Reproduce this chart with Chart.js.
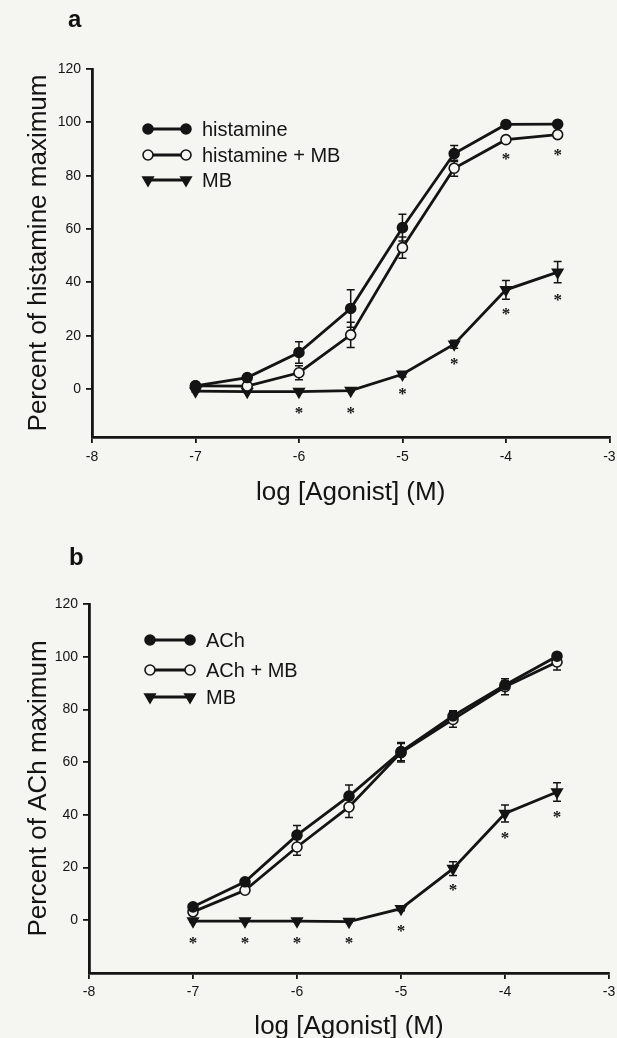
<!DOCTYPE html>
<html>
<head>
<meta charset="utf-8">
<script src="https://cdn.jsdelivr.net/npm/chart.js@4.4.1/dist/chart.umd.min.js"></script>
<style>
  html, body { margin: 0; padding: 0; background: #f5f6f1; }
  body { width: 617px; height: 1038px; position: relative; overflow: hidden; font-family: "Liberation Sans", Arial, sans-serif; }
  .panel { position: absolute; left: 0; width: 617px; }
  .tag { position: absolute; font-weight: bold; font-size: 24px; line-height: 1; color: #111; }
</style>
</head>
<body>
<div class="panel" style="top:0;height:520px"><canvas id="fig-a" width="617" height="520"></canvas></div>
<div class="panel" style="top:540px;height:498px"><canvas id="fig-b" width="617" height="498"></canvas></div>
<div class="tag" style="left:68px;top:7px">a</div>
<div class="tag" style="left:69px;top:545px">b</div>
<script>
// 농도-반응 곡선 두 장 (a: histamine, b: ACh) — 값은 그림에서 읽은 평균 ± SEM
const CONC    = [-7, -6.5, -6, -5.5, -5, -4.5, -4, -3.5];   // log [Agonist] (M)
const X_TICKS = [-8, -7, -6, -5, -4, -3];
const Y_TICKS = [0, 20, 40, 60, 80, 100, 120];

// a — histamine
const HIS_MEAN   = [1.2, 4.3, 13.7, 30.2, 60.5, 88.3, 99.2, 99.3];
const HIS_SEM    = [0.5, 1.0, 4.0, 7.0, 5.0, 3.0, 1.0, 1.0];
const HISMB_MEAN = [1.2, 1.1, 6.1, 20.3, 53.0, 82.8, 93.5, 95.4];
const HISMB_SEM  = [0.5, 0.8, 2.6, 4.7, 4.0, 3.0, 1.0, 1.0];
const MB_A_MEAN  = [-0.8, -1.0, -1.0, -0.6, 5.5, 16.8, 37.2, 43.8];
const MB_A_SEM   = [0.3, 0.3, 0.3, 0.3, 1.0, 1.5, 3.5, 4.0];
const STAR_A_X   = [-6, -5.5, -5, -4.5, -4, -3.5, -4, -3.5];
const STAR_A_Y   = [-7.5, -7.5, -0.5, 11, 29.5, 35, 87.8, 89.4];

// b — ACh
const ACH_MEAN   = [5.1, 14.6, 32.3, 47.1, 64.0, 77.5, 89.3, 100.2];
const ACH_SEM    = [1.0, 1.0, 3.7, 4.2, 3.5, 2.0, 1.5, 1.0];
const ACHMB_MEAN = [3.2, 11.4, 27.8, 43.0, 63.6, 76.2, 88.6, 98.0];
const ACHMB_SEM  = [1.0, 1.0, 3.1, 4.0, 3.5, 3.0, 3.0, 3.0];
const MB_B_MEAN  = [-0.3, -0.3, -0.3, -0.5, 4.4, 19.6, 40.5, 48.7];
const MB_B_SEM   = [0.3, 0.3, 0.3, 0.3, 0.8, 2.6, 3.2, 3.5];
const STAR_B_X   = [-7, -6.5, -6, -5.5, -5, -4.5, -4, -3.5];
const STAR_B_Y   = [-7, -7, -7, -7, -2.5, 12.9, 32.7, 40.8];

const INK   = '#141414';
const PAPER = '#f5f6f1';
const SANS  = '"Liberation Sans", Arial, sans-serif';

// 마커 종류: filled = ●, open = ○, tri = ▼
function series(label, mean, sem, kind) {
  const ds = {
    label,
    data: CONC.map((x, i) => ({ x, y: mean[i] })),
    sem,
    kind,
    borderColor: INK,
    borderWidth: 2.8,
    tension: 0,
    pointBorderColor: INK,
    pointBorderWidth: 1.6,
    pointHoverRadius: 0,
    pointStyle: 'circle',
    pointRadius: 5,
    pointBackgroundColor: kind === 'open' ? PAPER : INK,
  };
  if (kind === 'tri') Object.assign(ds, { pointStyle: 'triangle', pointRadius: 6, pointRotation: 180 });
  return ds;
}

function drawMarker(ctx, kind, x, y) {
  ctx.save();
  ctx.lineWidth = 1.6;
  ctx.strokeStyle = INK;
  ctx.fillStyle = kind === 'open' ? PAPER : INK;
  ctx.beginPath();
  if (kind === 'tri') {
    const r = 6;
    ctx.moveTo(x - r * 0.866, y - r * 0.5);
    ctx.lineTo(x + r * 0.866, y - r * 0.5);
    ctx.lineTo(x, y + r);
    ctx.closePath();
  } else {
    ctx.arc(x, y, 5, 0, Math.PI * 2);
  }
  ctx.fill();
  ctx.stroke();
  ctx.restore();
}

// 오차막대(데이터 아래), 별표와 범례(데이터 위)
const annot = {
  id: 'annot',
  beforeDatasetsDraw(chart) {
    const { ctx, scales: { x, y } } = chart;
    ctx.save();
    ctx.strokeStyle = INK;
    ctx.lineWidth = 1.5;
    chart.data.datasets.forEach(ds => {
      ds.data.forEach((p, i) => {
        const s = ds.sem[i];
        const px = x.getPixelForValue(p.x);
        const y1 = y.getPixelForValue(p.y + s);
        const y2 = y.getPixelForValue(p.y - s);
        ctx.beginPath();
        ctx.moveTo(px, y1); ctx.lineTo(px, y2);
        ctx.moveTo(px - 4, y1); ctx.lineTo(px + 4, y1);
        ctx.moveTo(px - 4, y2); ctx.lineTo(px + 4, y2);
        ctx.stroke();
      });
    });
    ctx.restore();
  },
  afterDraw(chart, args, opts) {
    const { ctx, scales: { x, y } } = chart;
    ctx.save();
    ctx.fillStyle = INK;
    ctx.font = 'bold 17px "Liberation Serif", serif';
    ctx.textAlign = 'center';
    ctx.textBaseline = 'alphabetic';
    opts.starX.forEach((sx, i) => {
      ctx.fillText('*', x.getPixelForValue(sx), y.getPixelForValue(opts.starY[i]) + 9);
    });

    const L = opts.legend;
    ctx.font = '20px ' + SANS;
    ctx.textAlign = 'left';
    ctx.textBaseline = 'middle';
    chart.data.datasets.forEach((ds, i) => {
      const ly = L.rows[i];
      ctx.strokeStyle = INK;
      ctx.lineWidth = 2.8;
      ctx.beginPath();
      ctx.moveTo(L.x0, ly); ctx.lineTo(L.x1, ly);
      ctx.stroke();
      drawMarker(ctx, ds.kind, L.x0, ly);
      drawMarker(ctx, ds.kind, L.x1, ly);
      ctx.fillStyle = INK;
      ctx.fillText(ds.label, L.tx, ly + 1);
    });
    ctx.restore();
  }
};

function makeChart(id, p) {
  const axisGrid = { drawOnChartArea: false, drawTicks: true, tickLength: 6, color: INK, lineWidth: 1.8 };
  return new Chart(document.getElementById(id), {
    type: 'line',
    data: { datasets: p.datasets },
    options: {
      responsive: false,
      animation: false,
      devicePixelRatio: 1,
      events: [],
      layout: { padding: { left: 0, top: p.top, right: p.right, bottom: 0 } },
      plugins: {
        legend: { display: false },
        tooltip: { enabled: false },
        annot: { starX: p.starX, starY: p.starY, legend: p.legend },
      },
      scales: {
        x: {
          type: 'linear', min: -8, max: -3,
          grid: axisGrid,
          border: { display: true, color: INK, width: 2.8 },
          ticks: { color: INK, font: { family: SANS, size: 14 }, padding: p.xtp, maxRotation: 0, callback: v => String(v) },
          afterBuildTicks: s => { s.ticks = X_TICKS.map(v => ({ value: v })); },
          afterFit: s => { s.height = p.xh; s.paddingLeft = 0; s.paddingRight = 0; },
          title: { display: true, text: 'log [Agonist] (M)', color: INK, font: { family: SANS, size: 26 }, padding: { top: 0, bottom: p.xtb } },
        },
        y: {
          type: 'linear', min: p.ymin, max: 120,
          grid: axisGrid,
          border: { display: true, color: INK, width: 2.8 },
          ticks: { color: INK, font: { family: SANS, size: 14 }, padding: 5, callback: v => String(v) },
          afterBuildTicks: s => { s.ticks = Y_TICKS.map(v => ({ value: v })); },
          afterFit: s => { s.width = p.yw; s.paddingTop = 0; s.paddingBottom = 0; },
          title: { display: true, text: p.ytitle, color: INK, font: { family: SANS, size: 26 }, padding: { top: 23, bottom: 0 } },
        },
      },
    },
    plugins: [annot],
  });
}

makeChart('fig-a', {
  datasets: [
    series('histamine', HIS_MEAN, HIS_SEM, 'filled'),
    series('histamine + MB', HISMB_MEAN, HISMB_SEM, 'open'),
    series('MB', MB_A_MEAN, MB_A_SEM, 'tri'),
  ],
  top: 69, right: 7, xh: 83, xtp: 6, xtb: 12, yw: 92, ymin: -18,
  ytitle: 'Percent of histamine maximum',
  starX: STAR_A_X, starY: STAR_A_Y,
  legend: { x0: 148, x1: 186, tx: 202, rows: [129, 155, 180] },
});

makeChart('fig-b', {
  datasets: [
    series('ACh', ACH_MEAN, ACH_SEM, 'filled'),
    series('ACh + MB', ACHMB_MEAN, ACHMB_SEM, 'open'),
    series('MB', MB_B_MEAN, MB_B_SEM, 'tri'),
  ],
  top: 64, right: 8, xh: 65, xtp: 5, xtb: -4, yw: 89, ymin: -20,
  ytitle: 'Percent of ACh maximum',
  starX: STAR_B_X, starY: STAR_B_Y,
  legend: { x0: 150, x1: 190, tx: 206, rows: [100, 130, 157] },
});
</script>
</body>
</html>
